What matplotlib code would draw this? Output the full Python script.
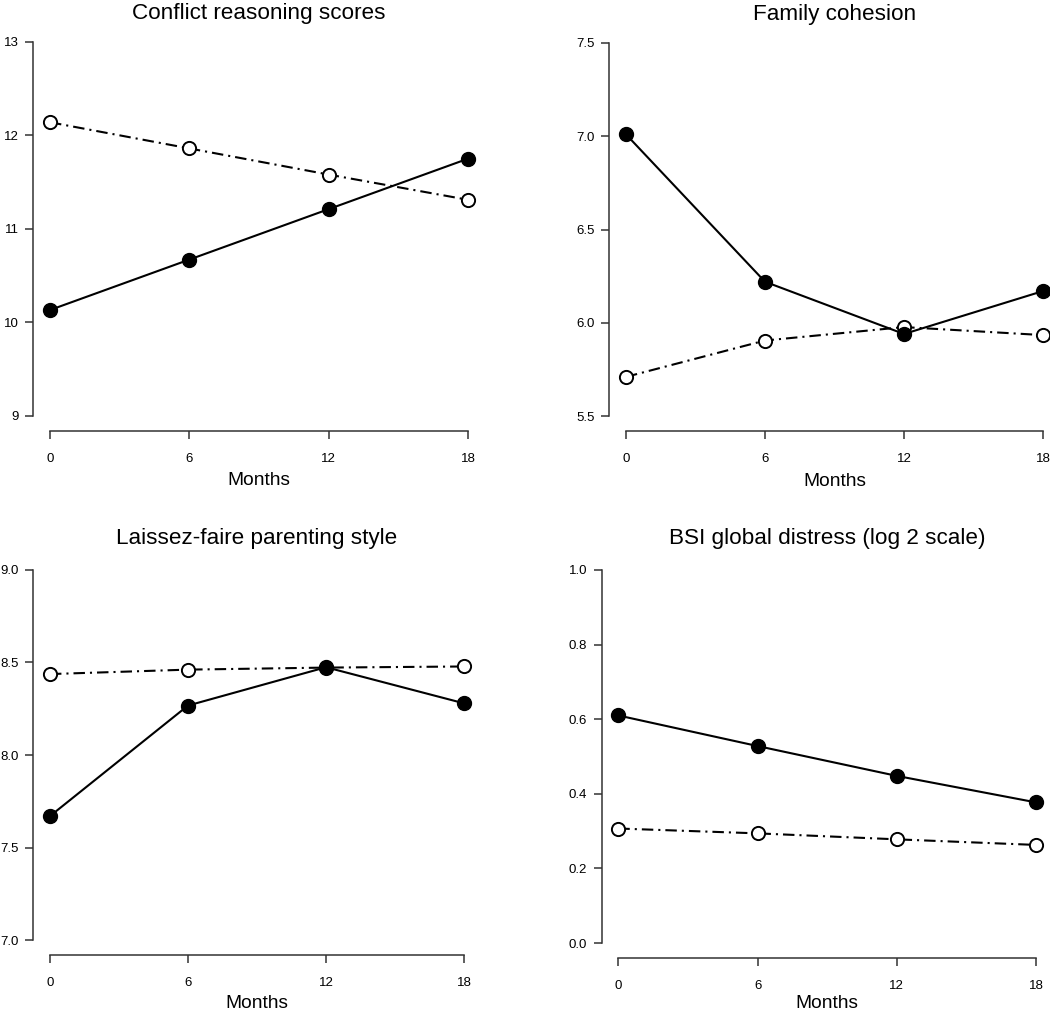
import matplotlib
matplotlib.use("Agg")
import matplotlib.pyplot as plt

plt.rcParams['font.family'] = ['Liberation Sans', 'DejaVu Sans']

months = [0, 6, 12, 18]

# Conflict reasoning scores
conflict_filled = [10.13, 10.67, 11.21, 11.75]
conflict_open = [12.14, 11.86, 11.58, 11.31]
conflict_ticks = [9, 10, 11, 12, 13]

# Family cohesion
cohesion_filled = [7.01, 6.22, 5.94, 6.17]
cohesion_open = [5.71, 5.905, 5.977, 5.934]
cohesion_ticks = [5.5, 6.0, 6.5, 7.0, 7.5]

# Laissez-faire parenting style
laissez_filled = [7.67, 8.267, 8.474, 8.279]
laissez_open = [8.437, 8.461, 8.472, 8.478]
laissez_ticks = [7.0, 7.5, 8.0, 8.5, 9.0]

# BSI global distress (log 2 scale)
bsi_filled = [0.61, 0.528, 0.448, 0.377]
bsi_open = [0.307, 0.294, 0.278, 0.263]
bsi_ticks = [0.0, 0.2, 0.4, 0.6, 0.8, 1.0]

W, H = 1050, 1013
fig = plt.figure(figsize=(W / 100, H / 100), dpi=100)


def add_px_axes(l, r, t, b):
    return fig.add_axes([l / W, 1 - b / H, (r - l) / W, (b - t) / H])


def rplot(ax, filled, opn, yticks, ylabels, title, tpad, lpad=5.5):
    ax.plot(months, opn, color='black', lw=1.5, dashes=(5.5, 2.4, 1, 2.4),
            marker='o', ms=9.5, mfc='white', mec='black', mew=1.4)
    ax.plot(months, filled, color='black', lw=1.5, marker='o', ms=10,
            mfc='black', mec='black')
    lo, hi = yticks[0], yticks[-1]
    pad = 0.04 * (hi - lo)
    ax.set_ylim(lo - pad, hi + pad)
    ax.set_xlim(-0.72, 18.72)
    for s in ['top', 'right']:
        ax.spines[s].set_visible(False)
    ax.spines['left'].set_bounds(lo, hi)
    ax.spines['bottom'].set_bounds(0, 18)
    for s in ['left', 'bottom']:
        ax.spines[s].set_color('#333333')
        ax.spines[s].set_linewidth(1.1)
    ax.set_xticks(months)
    ax.set_yticks(yticks)
    ax.set_yticklabels(ylabels)
    ax.tick_params(axis='both', direction='out', length=5.5, width=1.1,
                   color='#333333', labelsize=9.5)
    ax.tick_params(axis='x', pad=10.5)
    ax.tick_params(axis='y', pad=5)
    ax.set_xlabel('Months', fontsize=13.8, labelpad=lpad)
    ax.set_title(title, fontsize=16.2, pad=tpad)
    ax.patch.set_visible(False)


ax1 = add_px_axes(33.3, 484.7, 27, 430.5)
rplot(ax1, conflict_filled, conflict_open, conflict_ticks,
      ['9', '10', '11', '12', '13'], 'Conflict reasoning scores', 6)

ax2 = add_px_axes(609.3, 1059.7, 28, 431)
rplot(ax2, cohesion_filled, cohesion_open, cohesion_ticks,
      ['5.5', '6.0', '6.5', '7.0', '7.5'], 'Family cohesion', 6)

ax3 = add_px_axes(33.4, 480.6, 555, 955)
rplot(ax3, laissez_filled, laissez_open, laissez_ticks,
      ['7.0', '7.5', '8.0', '8.5', '9.0'], 'Laissez-faire parenting style', 8,
      lpad=4)

ax4 = add_px_axes(601.6, 1052.8, 555, 958)
rplot(ax4, bsi_filled, bsi_open, bsi_ticks,
      ['0.0', '0.2', '0.4', '0.6', '0.8', '1.0'],
      'BSI global distress (log 2 scale)', 8, lpad=2)

fig.savefig('out.png', dpi=100)
